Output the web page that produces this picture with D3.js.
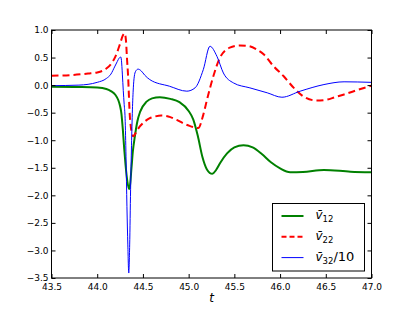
<!DOCTYPE html>
<html>
<head>
<meta charset="utf-8">
<script src="https://cdn.jsdelivr.net/npm/d3@7"></script>
<style>
  body { margin: 0; background: #fff; }
  svg { display: block; }
  text { font-family: "DejaVu Sans", sans-serif; }
</style>
</head>
<body>
<div id="chart"></div>
<script>
// values
const xTicks = [43.5, 44.0, 44.5, 45.0, 45.5, 46.0, 46.5, 47.0];
const yTicks = [1.0, 0.5, 0.0, -0.5, -1.0, -1.5, -2.0, -2.5, -3.0, -3.5];

const tV12 = [43.5, 43.8, 44.0, 44.1, 44.15, 44.2, 44.23, 44.25, 44.265, 44.28, 44.295, 44.31, 44.33, 44.349, 44.36, 44.375, 44.39, 44.41, 44.44, 44.47, 44.54, 44.6, 44.685, 44.8, 44.9, 45.0, 45.05, 45.1, 45.15, 45.2, 45.259, 45.3, 45.35, 45.42, 45.5, 45.6, 45.7, 45.8, 45.9, 46.0, 46.11, 46.25, 46.48, 46.77, 47.0];
const v12 = [-0.03, -0.035, -0.045, -0.07, -0.11, -0.18, -0.27, -0.38, -0.52, -0.8, -1.15, -1.45, -1.75, -1.885, -1.8, -1.5, -1.2, -0.95, -0.65, -0.48, -0.3, -0.24, -0.22, -0.25, -0.31, -0.47, -0.62, -0.92, -1.3, -1.53, -1.61, -1.54, -1.4, -1.24, -1.13, -1.09, -1.13, -1.25, -1.4, -1.51, -1.58, -1.575, -1.54, -1.57, -1.58];

const tV22 = [43.5, 43.7, 43.9, 44.0, 44.1, 44.15, 44.2, 44.25, 44.28, 44.3, 44.315, 44.325, 44.337, 44.356, 44.367, 44.38, 44.395, 44.41, 44.43, 44.466, 44.52, 44.575, 44.63, 44.7, 44.8, 44.87, 44.95, 45.01, 45.07, 45.105, 45.16, 45.2, 45.27, 45.34, 45.45, 45.56, 45.65, 45.75, 45.82, 45.93, 46.04, 46.15, 46.26, 46.4, 46.51, 46.6, 46.7, 46.88, 47.0];
const v22 = [0.17, 0.18, 0.21, 0.23, 0.3, 0.38, 0.52, 0.75, 0.9, 0.94, 0.8, 0.5, 0.19, -0.54, -0.75, -0.88, -0.93, -0.9, -0.84, -0.75, -0.66, -0.6, -0.57, -0.55, -0.58, -0.63, -0.7, -0.74, -0.77, -0.78, -0.54, -0.27, 0.16, 0.49, 0.68, 0.72, 0.71, 0.64, 0.56, 0.34, 0.16, -0.05, -0.21, -0.28, -0.265, -0.22, -0.17, -0.07, -0.01];

const tV32 = [43.5, 43.8, 44.0, 44.1, 44.15, 44.19, 44.22, 44.24, 44.257, 44.265, 44.275, 44.285, 44.295, 44.305, 44.315, 44.325, 44.335, 44.345, 44.355, 44.365, 44.375, 44.385, 44.395, 44.405, 44.42, 44.447, 44.48, 44.52, 44.575, 44.79, 44.98, 45.07, 45.16, 45.233, 45.31, 45.38, 45.49, 45.67, 45.86, 46.02, 46.22, 46.48, 46.7, 47.0];
const v32 = [-0.01, 0.0, 0.05, 0.12, 0.2, 0.33, 0.43, 0.49, 0.51, 0.45, 0.2, -0.1, -0.35, -0.6, -1.3, -2.2, -2.9, -3.41, -2.9, -1.9, -1.1, -0.45, -0.05, 0.15, 0.25, 0.29, 0.26, 0.18, 0.1, -0.02, -0.11, -0.05, 0.28, 0.705, 0.52, 0.22, 0.04, -0.05, -0.14, -0.22, -0.11, 0.01, 0.06, 0.05];

const W = 413, H = 310;
const mLeft = 51.5, mRight = 371.5, mTop = 30, mBottom = 278;

const svg = d3.select("#chart").append("svg").attr("width", W).attr("height", H);

const x = d3.scaleLinear().domain([43.5, 47.0]).range([mLeft, mRight]);
const y = d3.scaleLinear().domain([-3.5, 1.0]).range([mBottom, mTop]);

// clip so the curves stay in the frame
svg.append("clipPath").attr("id", "clip")
  .append("rect").attr("x", mLeft).attr("y", mTop).attr("width", mRight - mLeft).attr("height", mBottom - mTop);

const line = d3.line()
  .x(d => x(d[0]))
  .y(d => y(d[1]))
  .curve(d3.curveMonotoneX);

const series = [
  { t: tV12, v: v12, color: "#008000", width: 2, dash: null },
  { t: tV22, v: v22, color: "#ff0000", width: 2, dash: "7,4" },
  { t: tV32, v: v32, color: "#0000ff", width: 1, dash: null }
];

const plot = svg.append("g").attr("clip-path", "url(#clip)");
series.forEach(s => {
  plot.append("path")
    .datum(d3.zip(s.t, s.v))
    .attr("d", line)
    .attr("fill", "none")
    .attr("stroke", s.color)
    .attr("stroke-width", s.width)
    .attr("stroke-dasharray", s.dash);
});

const fmt = d3.format(".1f");
const tick = d => fmt(d).replace("-", "\u2212");

// axes, ticks pointing inwards on all four sides
svg.append("g").attr("transform", `translate(0,${mBottom})`)
  .call(d3.axisBottom(x).tickValues(xTicks).tickFormat(tick).tickSizeInner(-4).tickSizeOuter(0).tickPadding(6));
svg.append("g").attr("transform", `translate(0,${mTop})`)
  .call(d3.axisTop(x).tickValues(xTicks).tickFormat("").tickSizeInner(-4).tickSizeOuter(0));
svg.append("g").attr("transform", `translate(${mLeft},0)`)
  .call(d3.axisLeft(y).tickValues(yTicks).tickFormat(tick).tickSizeInner(-4).tickSizeOuter(0).tickPadding(3));
svg.append("g").attr("transform", `translate(${mRight},0)`)
  .call(d3.axisRight(y).tickValues(yTicks).tickFormat("").tickSizeInner(-4).tickSizeOuter(0));

svg.selectAll(".domain").remove();
svg.selectAll(".tick text").attr("font-size", 9).attr("font-family", "DejaVu Sans").attr("fill", "#000");
svg.selectAll(".tick line").attr("stroke", "#000");

svg.append("rect")
  .attr("x", mLeft).attr("y", mTop).attr("width", mRight - mLeft).attr("height", mBottom - mTop)
  .attr("fill", "none").attr("stroke", "#000").attr("stroke-width", 1);

svg.append("text")
  .attr("x", (mLeft + mRight) / 2).attr("y", 302)
  .attr("text-anchor", "middle")
  .attr("font-size", 12).attr("font-style", "italic")
  .text("t");

// legend
const lg = svg.append("g").attr("transform", "translate(272.5,203.5)");
lg.append("rect").attr("width", 92).attr("height", 67.5)
  .attr("fill", "#fff").attr("stroke", "#000").attr("stroke-width", 1);

const labels = [["12", ""], ["22", ""], ["32", "/10"]];
series.forEach((s, i) => {
  const yy = 12.5 + i * 20.8;
  lg.append("line").attr("x1", 9).attr("x2", 31).attr("y1", yy).attr("y2", yy)
    .attr("stroke", s.color).attr("stroke-width", s.width).attr("stroke-dasharray", s.dash ? "5,3" : null);
  const tx = lg.append("text").attr("x", 43).attr("y", yy + 3).attr("font-size", 12);
  tx.append("tspan").attr("font-style", "italic").text("v\u0304");
  tx.append("tspan").attr("font-size", 8.5).attr("dy", 3).text(labels[i][0]);
  if (labels[i][1]) tx.append("tspan").attr("dy", -3).attr("font-size", 13).text(labels[i][1]);
});
</script>
</body>
</html>
